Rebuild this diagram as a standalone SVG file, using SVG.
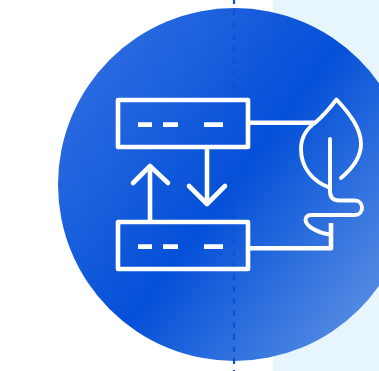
<svg xmlns="http://www.w3.org/2000/svg" width="379" height="371" viewBox="0 0 379 371">
<style>
.w{fill:none;stroke:#fff;stroke-width:4.6;stroke-linejoin:round}
.t{fill:none;stroke:#fff;stroke-width:3.9;stroke-linecap:round;stroke-linejoin:round}
.d{fill:none;stroke:#fff;stroke-width:4.8}
</style>
<defs>
<linearGradient id="g" gradientUnits="userSpaceOnUse" x1="88" y1="66" x2="376" y2="282">
<stop offset="0" stop-color="#2c6be0"/>
<stop offset="0.52" stop-color="#0450d8"/>
<stop offset="1" stop-color="#4f88e2"/>
</linearGradient>
</defs>
<rect width="379" height="371" fill="#fff"/>
<rect x="273" y="0" width="106" height="371" fill="#e6f6fc"/>
<circle cx="234.500" cy="184.500" r="176.500" fill="url(#g)"/>
<line x1="234" y1="0" x2="234" y2="371" stroke="#0b52d6" stroke-width="2.200" stroke-dasharray="6 6" stroke-dashoffset="2"/>
<g id="connectors">
<path class="w" d="M250 122.700H316"/>
<path class="w" d="M250 248.300H331V223"/>
<path class="w" d="M150 220V166"/>
<path class="w" stroke-linecap="round" d="M133 183L150 166L168 183"/>
<path class="w" d="M207 149V203"/>
<path class="w" stroke-linecap="round" d="M189 186L207 204L225 186"/>
</g>
<g id="box-top">
<rect class="w" x="118" y="100" width="130" height="47"/>
<path class="d" d="M138 124.700H152M163 124.700H178M204 124.700H223"/>
</g>
<g id="box-bottom">
<rect class="w" x="118" y="222" width="130" height="47"/>
<path class="d" d="M138 246.700H152M163 246.700H178M204 246.700H223"/>
</g>
<g id="leaf">
<path class="t" d="M341 178C353 168 361 157 361 144C361 128 349 113 336.500 99.500C330 108 324 115 316 122C306 129 301 138 301 149C301 168 313 181 328 187"/>
<path class="t" d="M330 139V191C330 197 333 200.500 339 200.500H355C359.500 200.500 362 204 362 207.700C362 212 359 215 355 215H311C307 215 305.500 217.500 305.500 220C306 227 320 233.500 330 234.500"/>
</g>
</svg>
